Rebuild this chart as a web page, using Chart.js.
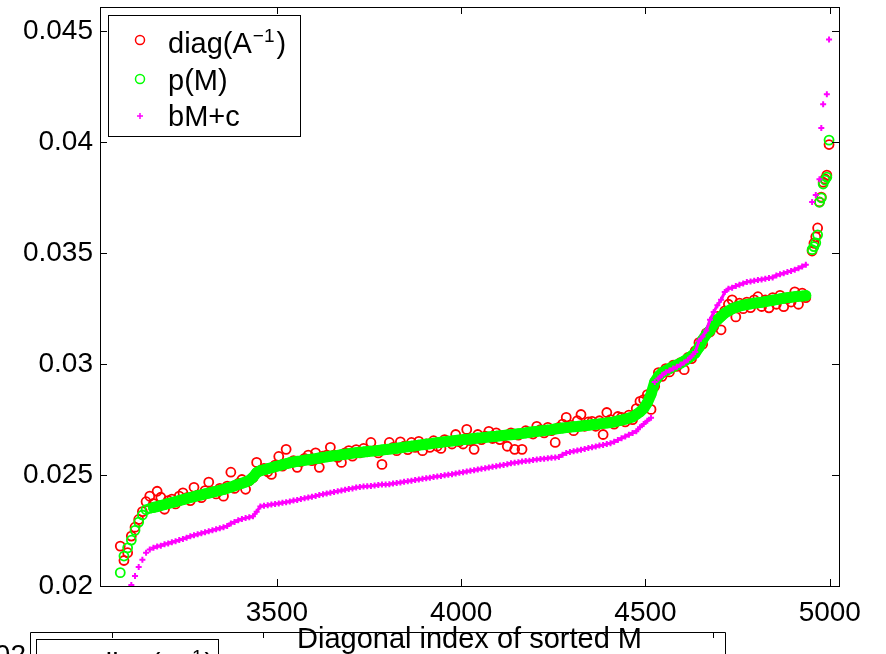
<!DOCTYPE html>
<html>
<head>
<meta charset="utf-8">
<script src="https://cdn.jsdelivr.net/npm/chart.js@4.4.1/dist/chart.umd.min.js"></script>
<style>
  html, body { margin: 0; padding: 0; background: #fff; }
  #wrap { width: 886px; height: 654px; position: relative; }
</style>
</head>
<body>
<div id="wrap"><canvas id="chart"></canvas></div>
<script>
  // diagonal index (sorted M)
  const xIndex = [
    3075, 3085, 3095, 3105, 3115, 3125, 3135, 3145, 3155, 3165,
    3175, 3185, 3195, 3205, 3215, 3225, 3235, 3245, 3255, 3265,
    3275, 3285, 3295, 3305, 3315, 3325, 3335, 3345, 3355, 3365,
    3375, 3385, 3395, 3405, 3415, 3425, 3435, 3445, 3455, 3465,
    3475, 3485, 3495, 3505, 3515, 3525, 3535, 3545, 3555, 3565,
    3575, 3585, 3595, 3605, 3615, 3625, 3635, 3645, 3655, 3665,
    3675, 3685, 3695, 3705, 3715, 3725, 3735, 3745, 3755, 3765,
    3775, 3785, 3795, 3805, 3815, 3825, 3835, 3845, 3855, 3865,
    3875, 3885, 3895, 3905, 3915, 3925, 3935, 3945, 3955, 3965,
    3975, 3985, 3995, 4005, 4015, 4025, 4035, 4045, 4055, 4065,
    4075, 4085, 4095, 4105, 4115, 4125, 4135, 4145, 4155, 4165,
    4175, 4185, 4195, 4205, 4215, 4225, 4235, 4245, 4255, 4265,
    4275, 4285, 4295, 4305, 4315, 4325, 4335, 4345, 4355, 4365,
    4375, 4385, 4395, 4405, 4415, 4425, 4435, 4445, 4455, 4465,
    4475, 4485, 4495, 4505, 4515, 4525, 4535, 4545, 4555, 4565,
    4575, 4585, 4595, 4605, 4615, 4625, 4635, 4645, 4655, 4665,
    4675, 4685, 4695, 4705, 4715, 4725, 4735, 4745, 4755, 4765,
    4775, 4785, 4795, 4805, 4815, 4825, 4835, 4845, 4855, 4865,
    4875, 4885, 4895, 4905, 4915, 4925, 4935, 4952, 4957, 4962, 4967, 4972, 4977, 4982, 4987, 4992, 4998
  ];

  // diag(A^-1)
  const diagInv = [
    0.02180, 0.02115, 0.02150, 0.02225, 0.02265, 0.02300, 0.02335, 0.02380, 0.02405, 0.02372,
    0.02427, 0.02400, 0.02346, 0.02385, 0.02392, 0.02370, 0.02405, 0.02420, 0.02398, 0.02385,
    0.02445, 0.02410, 0.02398, 0.02430, 0.02468, 0.02425, 0.02415, 0.02440, 0.02405, 0.02450,
    0.02513, 0.02440, 0.02462, 0.02480, 0.02436, 0.02475, 0.02488, 0.02557, 0.02520, 0.02530,
    0.02515, 0.02503, 0.02545, 0.02584, 0.02540, 0.02616, 0.02555, 0.02565, 0.02535, 0.02560,
    0.02575, 0.02590, 0.02565, 0.02600, 0.02535, 0.02585, 0.02590, 0.02625, 0.02590, 0.02580,
    0.02557, 0.02600, 0.02610, 0.02585, 0.02615, 0.02600, 0.02620, 0.02605, 0.02647, 0.02610,
    0.02600, 0.02548, 0.02615, 0.02647, 0.02625, 0.02610, 0.02650, 0.02630, 0.02615, 0.02647,
    0.02625, 0.02652, 0.02610, 0.02640, 0.02625, 0.02655, 0.02630, 0.02620, 0.02660, 0.02652,
    0.02640, 0.02683, 0.02650, 0.02640, 0.02706, 0.02655, 0.02616, 0.02683, 0.02660, 0.02675,
    0.02697, 0.02665, 0.02690, 0.02660, 0.02675, 0.02630, 0.02690, 0.02616, 0.02680, 0.02616,
    0.02700, 0.02690, 0.02685, 0.02720, 0.02705, 0.02690, 0.02715, 0.02700, 0.02647, 0.02715,
    0.02730, 0.02760, 0.02725, 0.02700, 0.02745, 0.02773, 0.02720, 0.02740, 0.02742, 0.02720,
    0.02745, 0.02683, 0.02782, 0.02750, 0.02730, 0.02764, 0.02760, 0.02740, 0.02770, 0.02750,
    0.02800, 0.02832, 0.02840, 0.02863, 0.02796, 0.02900, 0.02962, 0.02945, 0.02980, 0.02965,
    0.02995, 0.02990, 0.03007, 0.02975, 0.03030, 0.03025, 0.03060, 0.03097, 0.03090, 0.03140,
    0.03145, 0.03170, 0.03215, 0.03155, 0.03240, 0.03270, 0.03290, 0.03213, 0.03275, 0.03250,
    0.03280, 0.03255, 0.03290, 0.03304, 0.03260, 0.03290, 0.03254, 0.03300, 0.03270, 0.03310,
    0.03259, 0.03295, 0.03280, 0.03326, 0.03270, 0.03320, 0.03300, 0.03510, 0.03545, 0.03574, 0.03614, 0.03731, 0.03753, 0.03820, 0.03835, 0.03852, 0.03990
  ];

  // p(M)
  const pM = [
    0.02060, 0.02135, 0.02172, 0.02207, 0.02251, 0.02288, 0.02320, 0.02344, 0.02350, 0.02354,
    0.02358, 0.02363, 0.02367, 0.02372, 0.02376, 0.02380, 0.02385, 0.02389, 0.02394, 0.02399,
    0.02403, 0.02407, 0.02411, 0.02415, 0.02419, 0.02423, 0.02427, 0.02431, 0.02435, 0.02441,
    0.02446, 0.02452, 0.02458, 0.02463, 0.02469, 0.02476, 0.02490, 0.02511, 0.02520, 0.02524,
    0.02529, 0.02533, 0.02538, 0.02542, 0.02547, 0.02551, 0.02556, 0.02559, 0.02562, 0.02564,
    0.02567, 0.02569, 0.02572, 0.02574, 0.02577, 0.02580, 0.02582, 0.02585, 0.02587, 0.02589,
    0.02592, 0.02594, 0.02596, 0.02599, 0.02601, 0.02603, 0.02604, 0.02606, 0.02608, 0.02609,
    0.02611, 0.02613, 0.02615, 0.02617, 0.02619, 0.02621, 0.02623, 0.02626, 0.02628, 0.02630,
    0.02632, 0.02635, 0.02637, 0.02639, 0.02641, 0.02644, 0.02646, 0.02648, 0.02650, 0.02653,
    0.02654, 0.02656, 0.02658, 0.02660, 0.02661, 0.02663, 0.02665, 0.02667, 0.02668, 0.02670,
    0.02672, 0.02674, 0.02675, 0.02677, 0.02679, 0.02681, 0.02682, 0.02684, 0.02686, 0.02688,
    0.02690, 0.02693, 0.02695, 0.02697, 0.02699, 0.02701, 0.02703, 0.02705, 0.02708, 0.02710,
    0.02712, 0.02714, 0.02716, 0.02718, 0.02719, 0.02721, 0.02723, 0.02725, 0.02727, 0.02729,
    0.02731, 0.02733, 0.02735, 0.02737, 0.02740, 0.02744, 0.02748, 0.02752, 0.02757, 0.02762,
    0.02773, 0.02785, 0.02800, 0.02826, 0.02864, 0.02920, 0.02946, 0.02962, 0.02971, 0.02980,
    0.02989, 0.02997, 0.03004, 0.03014, 0.03025, 0.03037, 0.03050, 0.03075, 0.03110, 0.03135,
    0.03152, 0.03180, 0.03200, 0.03215, 0.03230, 0.03240, 0.03250, 0.03256, 0.03262, 0.03266,
    0.03269, 0.03272, 0.03275, 0.03277, 0.03279, 0.03282, 0.03285, 0.03288, 0.03291, 0.03294,
    0.03297, 0.03300, 0.03302, 0.03304, 0.03306, 0.03307, 0.03309, 0.03516, 0.03530, 0.03547, 0.03583, 0.03730, 0.03750, 0.03812, 0.03830, 0.03843, 0.04010
  ];

  // bM+c
  const bMc = [
    0.01880, 0.01930, 0.01970, 0.02005, 0.02045, 0.02086, 0.02118, 0.02150, 0.02165, 0.02172,
    0.02178, 0.02182, 0.02188, 0.02192, 0.02197, 0.02202, 0.02207, 0.02212, 0.02218, 0.02224,
    0.02229, 0.02233, 0.02238, 0.02242, 0.02247, 0.02251, 0.02256, 0.02260, 0.02265, 0.02270,
    0.02282, 0.02289, 0.02296, 0.02302, 0.02306, 0.02310, 0.02314, 0.02335, 0.02358, 0.02362,
    0.02364, 0.02367, 0.02370, 0.02372, 0.02375, 0.02378, 0.02381, 0.02385, 0.02388, 0.02392,
    0.02395, 0.02399, 0.02402, 0.02406, 0.02410, 0.02414, 0.02417, 0.02420, 0.02424, 0.02427,
    0.02430, 0.02434, 0.02437, 0.02440, 0.02444, 0.02446, 0.02448, 0.02450, 0.02451, 0.02453,
    0.02455, 0.02457, 0.02458, 0.02459, 0.02462, 0.02464, 0.02467, 0.02470, 0.02472, 0.02475,
    0.02478, 0.02480, 0.02483, 0.02486, 0.02488, 0.02491, 0.02494, 0.02496, 0.02499, 0.02501,
    0.02504, 0.02507, 0.02510, 0.02513, 0.02516, 0.02519, 0.02522, 0.02525, 0.02528, 0.02531,
    0.02534, 0.02537, 0.02540, 0.02543, 0.02546, 0.02549, 0.02553, 0.02556, 0.02558, 0.02561,
    0.02563, 0.02565, 0.02568, 0.02570, 0.02572, 0.02574, 0.02576, 0.02578, 0.02579, 0.02581,
    0.02592, 0.02600, 0.02604, 0.02607, 0.02611, 0.02614, 0.02618, 0.02622, 0.02625, 0.02629,
    0.02633, 0.02636, 0.02640, 0.02644, 0.02650, 0.02658, 0.02666, 0.02674, 0.02682, 0.02690,
    0.02698, 0.02716, 0.02730, 0.02745, 0.02758, 0.02920, 0.02935, 0.02950, 0.02963, 0.02971,
    0.02980, 0.02988, 0.02997, 0.03008, 0.03020, 0.03036, 0.03055, 0.03105, 0.03125, 0.03152,
    0.03200, 0.03235, 0.03265, 0.03290, 0.03325, 0.03340, 0.03345, 0.03352, 0.03358, 0.03364,
    0.03370, 0.03373, 0.03376, 0.03379, 0.03382, 0.03385, 0.03388, 0.03391, 0.03400, 0.03405,
    0.03410, 0.03415, 0.03420, 0.03426, 0.03432, 0.03440, 0.03448, 0.03731, null, 0.03763, null, 0.03834, 0.04064, 0.04172, null, 0.04217, 0.04464
  ];

  const xTicks = [3500, 4000, 4500, 5000];
  const yTicks = [0.02, 0.025, 0.03, 0.035, 0.04, 0.045];

  const FONT = '"Liberation Sans", Arial, sans-serif';

  function toPoints(values) {
    return xIndex.map((x, i) => ({ x: x, y: values[i] }));
  }

  // the ~1900 overlapping markers of the original merge into solid bands;
  // a thick line through the same values gives that look where markers are dense
  function band(values, from, to, skip) {
    return values.map((v, i) => {
      let x = xIndex[i];
      if (x < from || x > to || (skip && skip.includes(x))) return null;
      return v;
    });
  }

  function drawDiagLabel(ctx, x, baseline) {
    ctx.font = '29px ' + FONT;
    ctx.fillText('diag(A', x, baseline);
    let w = ctx.measureText('diag(A').width;
    ctx.font = '19px ' + FONT;
    ctx.fillText('\u22121', x + w + 1, baseline - 11);
    let w2 = ctx.measureText('\u22121').width;
    ctx.font = '29px ' + FONT;
    ctx.fillText(')', x + w + w2 + 3, baseline);
  }

  const matlabFrame = {
    id: 'matlabFrame',
    afterDraw(chart) {
      const ctx = chart.ctx;
      const a = chart.chartArea;
      const xs = chart.scales.x, ys = chart.scales.y;
      ctx.save();
      ctx.strokeStyle = '#000';
      ctx.lineWidth = 1;
      ctx.strokeRect(a.left + 0.5, a.top + 0.5, a.right - a.left, a.bottom - a.top);

      ctx.beginPath();
      xTicks.forEach(v => {
        let px = Math.round(xs.getPixelForValue(v)) + 0.5;
        ctx.moveTo(px, a.bottom); ctx.lineTo(px, a.bottom - 7);
        ctx.moveTo(px, a.top); ctx.lineTo(px, a.top + 7);
      });
      yTicks.forEach(v => {
        let py = Math.round(ys.getPixelForValue(v)) + 0.5;
        ctx.moveTo(a.left, py); ctx.lineTo(a.left + 7, py);
        ctx.moveTo(a.right, py); ctx.lineTo(a.right - 7, py);
      });
      ctx.stroke();

      // legend
      ctx.fillStyle = '#fff';
      ctx.fillRect(108, 15, 192, 121);
      ctx.strokeRect(108.5, 15.5, 192, 121);
      ctx.lineWidth = 1.5;
      ctx.strokeStyle = '#ff0000';
      ctx.beginPath(); ctx.arc(140, 40, 4.5, 0, Math.PI * 2); ctx.stroke();
      ctx.strokeStyle = '#00ff00';
      ctx.beginPath(); ctx.arc(140, 79, 4.5, 0, Math.PI * 2); ctx.stroke();
      ctx.strokeStyle = '#ff00ff';
      ctx.beginPath();
      ctx.moveTo(137, 116); ctx.lineTo(143, 116);
      ctx.moveTo(140, 113); ctx.lineTo(140, 119);
      ctx.stroke();
      ctx.fillStyle = '#000';
      ctx.textAlign = 'left';
      ctx.textBaseline = 'alphabetic';
      drawDiagLabel(ctx, 168, 53);
      ctx.font = '29px ' + FONT;
      ctx.fillText('p(M)', 168, 90);
      ctx.fillText('bM+c', 168, 126);

      // top edge of the next figure below
      ctx.strokeStyle = '#000';
      ctx.lineWidth = 1;
      ctx.beginPath();
      ctx.moveTo(30.5, 660); ctx.lineTo(30.5, 632.5); ctx.lineTo(725.5, 632.5); ctx.lineTo(725.5, 660);
      [112, 263, 713].forEach(px => { ctx.moveTo(px + 0.5, 632.5); ctx.lineTo(px + 0.5, 638); });
      ctx.stroke();
      ctx.fillStyle = '#fff';
      ctx.fillRect(36, 639, 182, 30);
      ctx.strokeRect(36.5, 639.5, 182, 30);
      ctx.fillStyle = '#000';
      drawDiagLabel(ctx, 96, 674);
      ctx.font = '28px ' + FONT;
      ctx.textAlign = 'right';
      ctx.textBaseline = 'middle';
      ctx.fillText('0.02', 26, 656);

      // xlabel
      ctx.font = '29px ' + FONT;
      ctx.textAlign = 'center';
      ctx.textBaseline = 'alphabetic';
      ctx.fillText('Diagonal index of sorted M', (a.left + a.right) / 2, 648);
      ctx.restore();
    }
  };

  function markers(label, values, color, order) {
    return {
      label: label,
      data: toPoints(values),
      pointStyle: 'circle',
      pointRadius: 4.5,
      borderWidth: 1.8,
      borderColor: color,
      backgroundColor: 'rgba(0,0,0,0)',
      order: order
    };
  }

  function bandLine(values, color, width, order) {
    return {
      data: toPoints(values),
      showLine: true,
      spanGaps: false,
      pointRadius: 0,
      borderWidth: width,
      borderColor: color,
      borderCapStyle: 'round',
      borderJoinStyle: 'round',
      tension: 0,
      order: order
    };
  }

  let chartConfig = {
    type: 'scatter',
    data: {
      datasets: [
        markers('diag(A^-1)', diagInv, '#ff0000', 5),
        bandLine(band(pM, 3165, 4940), '#00ff00', 11, 4),
        markers('p(M)', pM, '#00ff00', 3),
        bandLine(band(bMc, 3160, 4940, [4525]), '#ff00ff', 3, 2),
        {
          label: 'bM+c',
          data: toPoints(bMc),
          pointStyle: 'cross',
          pointRadius: 3,
          borderWidth: 2,
          borderColor: '#ff00ff',
          backgroundColor: '#ff00ff',
          order: 1
        }
      ]
    },
    options: {
      responsive: true,
      maintainAspectRatio: false,
      animation: false,
      events: [],
      layout: { padding: { top: 7, right: 47, left: 0, bottom: 0 } },
      plugins: {
        legend: { display: false },
        tooltip: { enabled: false }
      },
      scales: {
        x: {
          type: 'linear',
          min: 3020,
          max: 5025,
          grid: { display: false, drawTicks: false },
          border: { display: false },
          afterBuildTicks: scale => { scale.ticks = xTicks.map(v => ({ value: v })); },
          afterFit: scale => {
            scale.height = 68;
            scale.paddingLeft = 0; scale.paddingRight = 0;
          },
          ticks: {
            color: '#000',
            padding: 10,
            maxRotation: 0,
            font: { family: FONT, size: 28 },
            callback: v => String(v)
          }
        },
        y: {
          type: 'linear',
          min: 0.02,
          max: 0.0461,
          grid: { display: false, drawTicks: false },
          border: { display: false },
          afterBuildTicks: scale => { scale.ticks = yTicks.map(v => ({ value: v })); },
          afterFit: scale => {
            scale.width = 100;
            scale.paddingTop = 0; scale.paddingBottom = 0;
          },
          ticks: {
            color: '#000',
            padding: 7,
            font: { family: FONT, size: 28 },
            callback: v => String(+v.toFixed(3))
          }
        }
      }
    },
    plugins: [matlabFrame]
  };

  new Chart(document.getElementById('chart'), chartConfig);
</script>
</body>
</html>
